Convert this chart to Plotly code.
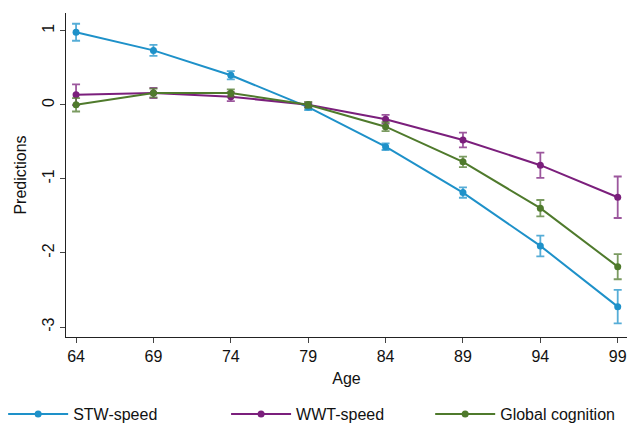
import plotly.graph_objects as go

ages = [64, 69, 74, 79, 84, 89, 94, 99]
stw = [0.98, 0.735, 0.40, -0.03, -0.565, -1.185, -1.905, -2.725]
stw_err = [0.115, 0.075, 0.055, 0.04, 0.045, 0.07, 0.14, 0.225]
wwt = [0.135, 0.16, 0.11, 0.0, -0.195, -0.475, -0.815, -1.248]
wwt_err = [0.14, 0.07, 0.06, 0.03, 0.06, 0.10, 0.17, 0.28]
glob = [0.0, 0.16, 0.16, 0.0, -0.295, -0.77, -1.395, -2.185]
glob_err = [0.09, 0.06, 0.05, 0.04, 0.06, 0.07, 0.11, 0.17]
names = ["STW-speed", "WWT-speed", "Global cognition"]
colors = ["#1e91c9", "#7b1f7c", "#4f7a2c"]
err_colors = ["rgba(30,145,201,0.75)", "rgba(123,31,124,0.75)", "rgba(79,122,44,0.75)"]
x_ticks = [64, 69, 74, 79, 84, 89, 94, 99]
y_ticks = [1, 0, -1, -2, -3]

legend_ids = ["legend", "legend2", "legend3"]
legend_x = [0.005, 0.36, 0.685]

fig = go.Figure()
for ys, es, nm, c, ec, lg in zip([stw, wwt, glob], [stw_err, wwt_err, glob_err],
                                 names, colors, err_colors, legend_ids):
    fig.add_trace(go.Scatter(
        x=ages, y=ys, name=nm, mode="lines+markers",
        line=dict(color=c, width=2),
        marker=dict(color=c, size=7),
        error_y=dict(type="data", array=es, visible=True, color=ec, thickness=1.8, width=4),
        legend=lg,
    ))

font_family = "Liberation Sans, Arial, sans-serif"
fig.update_layout(
    width=628, height=427,
    margin=dict(l=66, r=1, t=13, b=90, autoexpand=False),
    paper_bgcolor="white", plot_bgcolor="white",
    font=dict(family=font_family, size=16, color="#111"),
    showlegend=True,
)
for lg, lx in zip(legend_ids, legend_x):
    fig.update_layout({lg: dict(
        orientation="h", xref="container", yref="container",
        x=lx, xanchor="left", y=0.03, yanchor="middle",
        font=dict(size=16), itemwidth=60, bgcolor="rgba(0,0,0,0)",
    )})

fig.update_xaxes(
    range=[63.35, 99.6], tickvals=x_ticks, ticktext=[str(t) for t in x_ticks],
    automargin=False,
    showline=True, linecolor="#222", linewidth=1.2, ticks="outside", ticklen=5,
    tickcolor="#444", showgrid=False, zeroline=False,
    title=dict(text="Age", font=dict(size=16), standoff=8),
)
fig.update_yaxes(
    range=[-3.135, 1.24], tickvals=y_ticks, ticktext=[str(t) for t in y_ticks],
    tickangle=-90, automargin=False,
    showline=True, linecolor="#222", linewidth=1.2, ticks="outside", ticklen=5,
    tickcolor="#444", showgrid=False, zeroline=False,
    title=dict(text="Predictions", font=dict(size=16), standoff=8),
)
fig.write_html(
    "out.html",
    config={"displayModeBar": False},
    post_script="document.body.style.margin='0';document.body.style.overflow='hidden';",
)
